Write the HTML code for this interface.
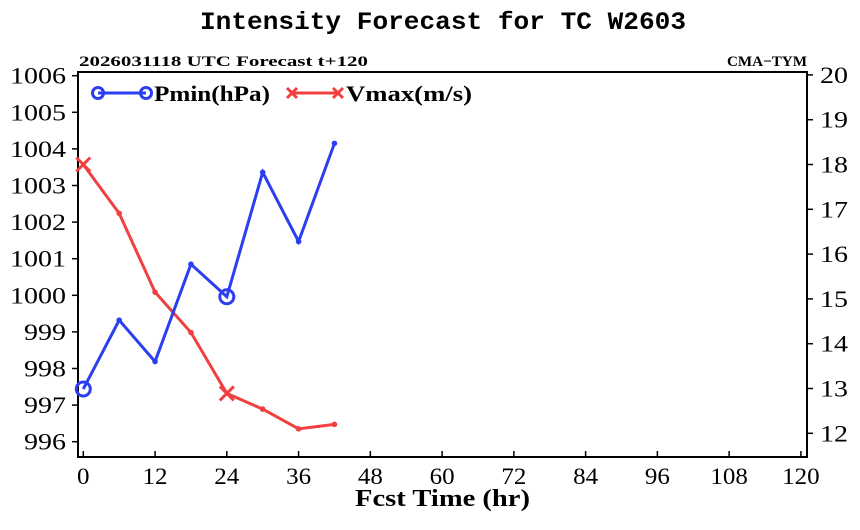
<!DOCTYPE html>
<html><head><meta charset="utf-8"><style>
body{margin:0;background:#fff;}
svg text{fill:#000;}
</style></head><body>
<svg id="chart" width="860" height="525" xmlns="http://www.w3.org/2000/svg">
<text x="200" y="29" textLength="486" lengthAdjust="spacingAndGlyphs" font-family="Liberation Mono, monospace" font-weight="bold" font-size="25">Intensity Forecast for TC W2603</text>
<text x="79" y="66" textLength="289" lengthAdjust="spacingAndGlyphs" font-family="Liberation Serif, serif" font-weight="bold" font-size="15">2026031118 UTC Forecast t+120</text>
<text x="727" y="66" textLength="80" lengthAdjust="spacingAndGlyphs" font-family="Liberation Serif, serif" font-weight="bold" font-size="15">CMA−TYM</text>
<rect x="78" y="72" width="729" height="385" fill="none" stroke="#000" stroke-width="2"/>
<g id="axes"></g>
<g id="series"></g>
<g>
<line x1="98" y1="93" x2="146" y2="93" stroke="#2b3ff0" stroke-width="3"/>
<circle cx="98" cy="93" r="5.5" fill="none" stroke="#2b3ff0" stroke-width="3"/>
<circle cx="146" cy="93" r="5.5" fill="none" stroke="#2b3ff0" stroke-width="3"/>
<text x="154" y="101" textLength="116" lengthAdjust="spacingAndGlyphs" font-family="Liberation Serif, serif" font-weight="bold" font-size="22">Pmin(hPa)</text>
<line x1="292" y1="93" x2="338" y2="93" stroke="#f04040" stroke-width="3"/>
<path d="M287 88 l10 10 M297 88 l-10 10 M333 88 l10 10 M343 88 l-10 10" stroke="#f04040" stroke-width="3"/>
<text x="346" y="101" textLength="126" lengthAdjust="spacingAndGlyphs" font-family="Liberation Serif, serif" font-weight="bold" font-size="22">Vmax(m/s)</text>
</g>
<text x="355" y="506" textLength="175" lengthAdjust="spacingAndGlyphs" font-family="Liberation Serif, serif" font-weight="bold" font-size="24">Fcst Time (hr)</text>
</svg>
<script>
const hours=[0,6,12,18,24,30,36,42];
const pmin=[997.44,999.32,998.19,1000.85,999.96,1003.36,1001.47,1004.15];
const vmax=[18.0,16.91,15.15,14.25,12.89,12.54,12.1,12.2];
const xTicks=[0,12,24,36,48,60,72,84,96,108,120];
const pTicks=[996,997,998,999,1000,1001,1002,1003,1004,1005,1006];
const vTicks=[12,13,14,15,16,17,18,19,20];
const NS='http://www.w3.org/2000/svg';
const X=h=>83.3+h*5.98;
const YP=p=>441.7-(p-996)*36.6;
const YV=v=>433.3-(v-12)*44.8;
function mk(tag,attrs,parent,txt){const e=document.createElementNS(NS,tag);for(const k in attrs)e.setAttribute(k,attrs[k]);if(txt!==undefined)e.textContent=txt;parent.appendChild(e);return e;}
const ax=document.getElementById('axes');
const F='Liberation Serif, serif';
xTicks.forEach(t=>{
 const s=String(t);
 const l=mk('line',{x1:X(t),x2:X(t),y1:457,y2:451,stroke:'#000','stroke-width':1.5},ax);
 
 
 const w=s.length*12.5;
 const tx=mk('text',{x:X(t)-w/2,y:484,textLength:w,lengthAdjust:'spacingAndGlyphs','font-family':F,'font-size':23},ax,s);
 
 
});
pTicks.forEach(t=>{
 const s=String(t);
 const l=mk('line',{x1:72,x2:78,y1:YP(t),y2:YP(t),stroke:'#000','stroke-width':1.5},ax);
 
 
 const w=s.length*14;
 const tx=mk('text',{x:66-w,y:YP(t)+8,textLength:w,lengthAdjust:'spacingAndGlyphs','font-family':F,'font-size':23},ax,s);
 
 
});
vTicks.forEach(t=>{
 const s=String(t);
 const l=mk('line',{x1:807,x2:813,y1:YV(t),y2:YV(t),stroke:'#000','stroke-width':1.5},ax);
 
 
 const tx=mk('text',{x:820,y:YV(t)+8,textLength:s.length*14,lengthAdjust:'spacingAndGlyphs','font-family':F,'font-size':23},ax,s);
 
 
});
const sg=document.getElementById('series');
const vl=mk('polyline',{points:hours.map((h,i)=>X(h)+','+YV(vmax[i])).join(' '),fill:'none',stroke:'#f04040','stroke-width':3},sg);


const pl=mk('polyline',{points:hours.map((h,i)=>X(h)+','+YP(pmin[i])).join(' '),fill:'none',stroke:'#2b3ff0','stroke-width':3},sg);


hours.forEach((h,i)=>{
 const x=X(h),yv=YV(vmax[i]),yp=YP(pmin[i]);
 if(h%24===0){
  const c=mk('path',{d:`M${x-7} ${yv-7} L${x+7} ${yv+7} M${x+7} ${yv-7} L${x-7} ${yv+7}`,stroke:'#f04040','stroke-width':3},sg);
  
  
  const o=mk('circle',{cx:x,cy:yp,r:7,fill:'none',stroke:'#2b3ff0','stroke-width':3},sg);
  
  
 } else {
  const d1=mk('circle',{cx:x,cy:yv,r:2.8,fill:'#f04040'},sg);
  
  
  const d2=mk('circle',{cx:x,cy:yp,r:2.8,fill:'#2b3ff0'},sg);
  
  
 }
});
</script>
</body></html>
